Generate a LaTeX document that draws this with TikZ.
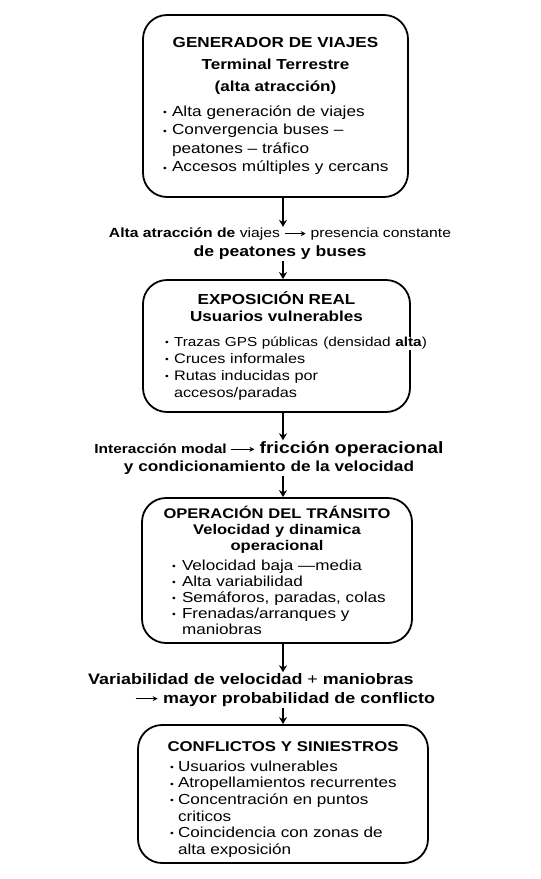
\documentclass[tikz,border=0pt]{standalone}
\usepackage{fontspec}
\setmainfont{Liberation Sans}[FakeStretch=1.18]
\usetikzlibrary{arrows.meta, calc}
\hyphenpenalty=10000
\exhyphenpenalty=10000

% vineta con sangria francesa
\newcommand{\pto}[2][9pt]{\par\rightskip=-30pt plus 1fil\hangindent=#1\hangafter=1\noindent\makebox[#1][l]{\raisebox{0.1ex}{\fontsize{9}{9}\selectfont\textbullet}}#2}
% titulo centrado de cada caja
\newcommand{\cabeza}[4][14.5]{{\centering\bfseries\fontsize{#1}{#2}\selectfont #4\par}\vspace{#3}}
% flecha corta dentro del texto
\newcommand{\flecha}[1][21pt]{\tikz[baseline=-0.6ex]\draw[line width=0.9pt,-{Stealth[length=5pt,width=5pt]}] (0pt,0pt) -- (#1,0pt);}

\tikzset{
  etapa/.style={draw, line width=1.8pt, rounded corners=24pt, align=left, inner ysep=0pt},
  enlace/.style={align=center, inner sep=1pt, font=\bfseries},
  flujo/.style={line width=1.8pt, -{Stealth[length=7pt,width=8pt]}}
}

\begin{document}
\begin{tikzpicture}[x=1pt, y=-1pt]
\useasboundingbox (0,0) rectangle (541,879);
\coordinate (eje) at (283,0);

% Cajas
\node[etapa, text width=225pt, inner xsep=20pt, minimum height=182pt, font=\fontsize{14.6}{18.5}\selectfont] (gen) at (275.5,106) {%
  \cabeza{22pt}{6.5pt}{GENERADOR DE VIAJES\\ Terminal Terrestre\\ (alta atracción)}
  \pto{Alta generación de viajes}
  \pto{Convergencia buses –\newline peatones – tráfico}
  \pto{Accesos múltiples y cercans}\par};

\node[etapa, text width=223pt, inner xsep=22pt, minimum height=132pt, font=\fontsize{13.8}{16.8}\selectfont] (exp) at (276.5,346) {%
  \cabeza{17pt}{8pt}{EXPOSICIÓN REAL\\ Usuarios vulnerables}
  \pto{\mbox{\fontsize{13}{16.8}\selectfont Trazas GPS públicas {\setlength{\fboxsep}{0.5pt}\colorbox{white}{(densidad \textbf{alta})}}}}
  \pto{Cruces informales}
  \pto{Rutas inducidas por\newline accesos/paradas}\par};

\node[etapa, text width=210pt, inner xsep=30pt, minimum height=145pt, font=\fontsize{14.5}{16}\selectfont] (ope) at (277,570.5) {%
  \cabeza[14]{16pt}{4pt}{\makebox[\linewidth]{OPERACIÓN DEL TRÁNSITO}\\ Velocidad y dinamica\\ operacional}
  \pto[10pt]{Velocidad baja —media}
  \pto[10pt]{Alta variabilidad}
  \pto[10pt]{Semáforos, paradas, colas}
  \pto[10pt]{Frenadas/arranques y\newline maniobras}\par};

\node[etapa, text width=226pt, inner xsep=32pt, minimum height=138pt, font=\fontsize{14.5}{16.6}\selectfont] (con) at (283,794) {%
  \vspace*{4pt}
  \cabeza[14.2]{16.5pt}{3.5pt}{\makebox[\linewidth]{CONFLICTOS Y SINIESTROS}}
  \pto[8pt]{Usuarios vulnerables}
  \pto[8pt]{Atropellamientos recurrentes}
  \pto[8pt]{Concentración en puntos\newline criticos}
  \pto[8pt]{Coincidencia con zonas de\newline alta exposición}\par};

% Textos entre cajas
\node[enlace, font=\fontsize{14.9}{19}\selectfont\bfseries] (lab1) at (280,244) {{\fontsize{13.3}{19}\selectfont Alta atracción de \mdseries viajes \flecha{} presencia constante}\\ de peatones y buses};

\node[enlace, font=\fontsize{14.6}{18}\selectfont\bfseries] (lab2) at (269,458) {{\fontsize{13.1}{18}\selectfont Interacción modal \flecha[23pt]} {\fontsize{16.4}{18}\selectfont fricción operacional}\\ y condicionamiento de la velocidad};

\node[enlace, align=left, anchor=west, font=\fontsize{15.2}{19}\selectfont\bfseries] (lab3) at (87,690) {Variabilidad de velocidad {\mdseries+} maniobras\\ \hspace*{47pt}\flecha[22pt] mayor probabilidad de conflicto};

% Conectores
\draw[flujo] (gen.south -| eje) -- (lab1.north -| eje);
\draw[flujo] (lab1.south -| eje) -- (exp.north -| eje);
\draw[flujo] (exp.south -| eje) -- (lab2.north -| eje);
\draw[flujo] (lab2.south -| eje) -- (ope.north -| eje);
\draw[flujo] (ope.south -| eje) -- (lab3.north -| eje);
\draw[flujo] (lab3.south -| eje) -- (con.north -| eje);

\end{tikzpicture}
\end{document}
